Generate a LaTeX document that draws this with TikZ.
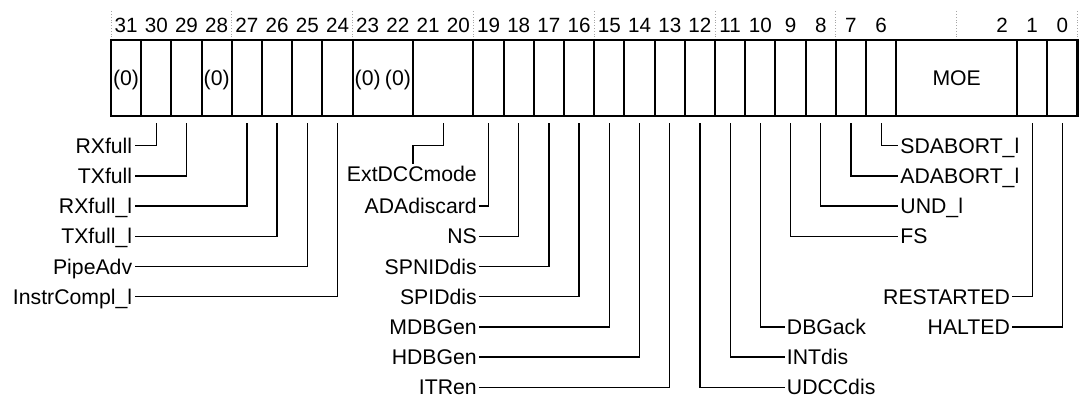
\documentclass[tikz,border=0pt]{standalone}
\usepackage{fontspec}
\setmainfont{Liberation Sans}
\begin{document}
\begin{tikzpicture}[x=5.3mm,y=5.3mm,
  lbl/.style={inner sep=1pt,text height=7.6pt,text depth=0pt,
    font=\fontsize{10.6}{12}\selectfont},
  num/.style={lbl,font=\fontsize{10.3}{12}\selectfont},
  lead/.style={line width=0.65pt},
  cellline/.style={line width=1pt}]
  \useasboundingbox (-3.675,-11.887) rectangle (32.05,1.325);
  \foreach \b in {31,...,6,2,1,0}
    \node[num] (n\b) at ({31.5-\b},0.5) {\b};
  \foreach \x in {0,4,...,32}
    \draw[gray!70,densely dotted,line width=0.4pt] (\x,0) -- (\x,1);
  \draw[cellline] (0,0) rectangle (32,-2.5);
  \foreach \x in {1,...,8,10,12,13,...,26,30,31}
    \draw[cellline] (\x,0) -- (\x,-2.5);
  \foreach \b in {31,28,23,22}
    \node[lbl] (z\b) at ({31.5-\b},-1.25) {(0)};
  \node[lbl] (moe) at (28,-1.25) {MOE};
  \foreach \b in {0,...,31}
    \coordinate (b\b) at ({31.5-\b},-2.75);
  \coordinate (f21) at (11,-2.75);
  \coordinate (jog) at (10,-3.5);

  \node[lbl,anchor=east] (rxfull) at (0.78,-3.5) {RXfull};
  \node[lbl,anchor=east] (txfull) at (0.78,-4.5) {TXfull};
  \node[lbl,anchor=east] (rxfulll) at (0.78,-5.5) {RXfull\_l};
  \node[lbl,anchor=east] (txfulll) at (0.78,-6.5) {TXfull\_l};
  \node[lbl,anchor=east] (pipeadv) at (0.78,-7.5) {PipeAdv};
  \node[lbl,anchor=east] (instrcompl) at (0.78,-8.5) {InstrCompl\_l};

  \node[lbl,anchor=east] (extdcc) at (12.19,-4.44) {ExtDCCmode};
  \node[lbl,anchor=east] (adadiscard) at (12.19,-5.5) {ADAdiscard};
  \node[lbl,anchor=east] (ns) at (12.19,-6.5) {NS};
  \node[lbl,anchor=east] (spniddis) at (12.19,-7.5) {SPNIDdis};
  \node[lbl,anchor=east] (spiddis) at (12.19,-8.5) {SPIDdis};
  \node[lbl,anchor=east] (mdbgen) at (12.19,-9.5) {MDBGen};
  \node[lbl,anchor=east] (hdbgen) at (12.19,-10.5) {HDBGen};
  \node[lbl,anchor=east] (itren) at (12.19,-11.5) {ITRen};

  \node[lbl,anchor=west] (dbgack) at (22.3,-9.5) {DBGack};
  \node[lbl,anchor=west] (intdis) at (22.3,-10.5) {INTdis};
  \node[lbl,anchor=west] (udccdis) at (22.3,-11.5) {UDCCdis};
  \node[lbl,anchor=west] (sdabort) at (26.06,-3.5) {SDABORT\_l};
  \node[lbl,anchor=west] (adabort) at (26.06,-4.5) {ADABORT\_l};
  \node[lbl,anchor=west] (undl) at (26.06,-5.5) {UND\_l};
  \node[lbl,anchor=west] (fs) at (26.06,-6.5) {FS};
  \node[lbl,anchor=east] (restarted) at (29.84,-8.5) {RESTARTED};
  \node[lbl,anchor=east] (halted) at (29.84,-9.5) {HALTED};

  \draw[lead] (b30) |- (rxfull);
  \draw[lead] (b29) |- (txfull);
  \draw[lead] (b27) |- (rxfulll);
  \draw[lead] (b26) |- (txfulll);
  \draw[lead] (b25) |- (pipeadv);
  \draw[lead] (b24) |- (instrcompl);
  \draw[lead] (f21) |- (jog) -- (jog |- extdcc.north);
  \draw[lead] (b19) |- (adadiscard);
  \draw[lead] (b18) |- (ns);
  \draw[lead] (b17) |- (spniddis);
  \draw[lead] (b16) |- (spiddis);
  \draw[lead] (b15) |- (mdbgen);
  \draw[lead] (b14) |- (hdbgen);
  \draw[lead] (b13) |- (itren);
  \draw[lead] (b12) |- (udccdis);
  \draw[lead] (b11) |- (intdis);
  \draw[lead] (b10) |- (dbgack);
  \draw[lead] (b9) |- (fs);
  \draw[lead] (b8) |- (undl);
  \draw[lead] (b7) |- (adabort);
  \draw[lead] (b6) |- (sdabort);
  \draw[lead] (b1) |- (restarted);
  \draw[lead] (b0) |- (halted);
\end{tikzpicture}
\end{document}
